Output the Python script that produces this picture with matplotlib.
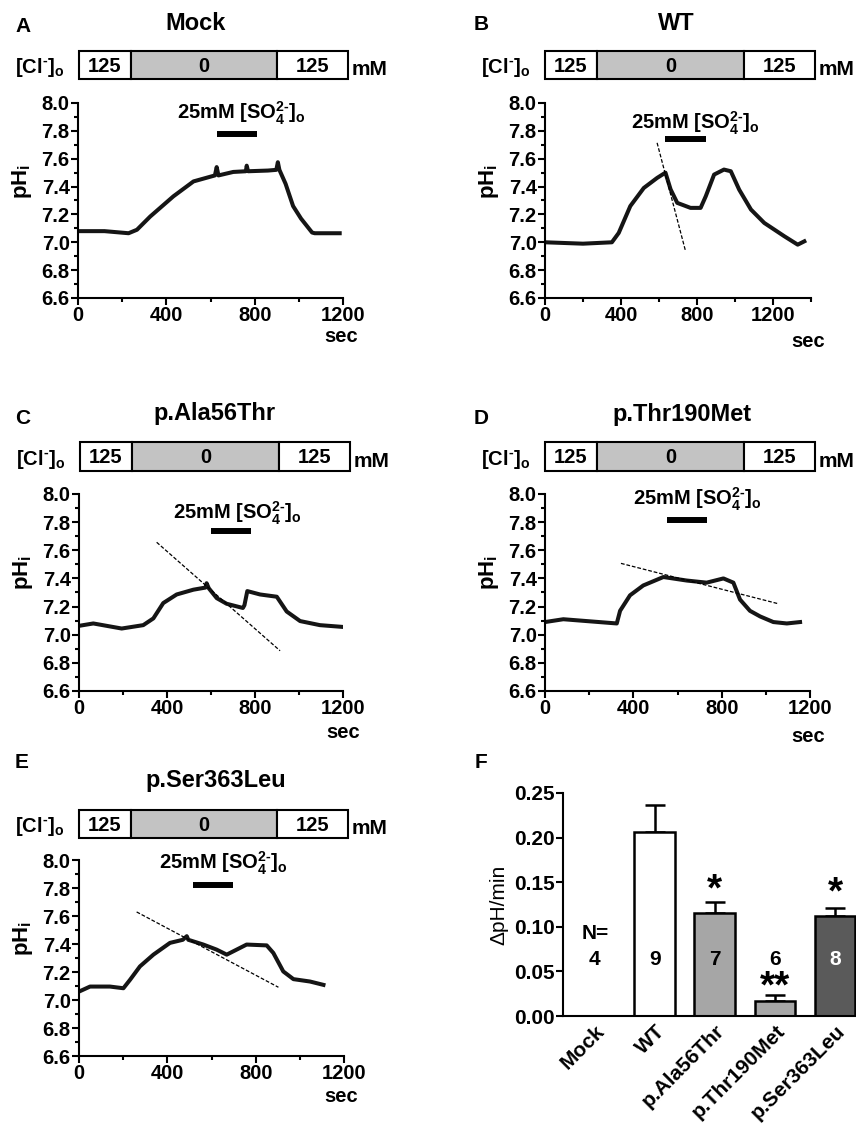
"""SLC26A pH_i traces (A-E) + ΔpH/min summary bar chart (F)."""
import matplotlib
matplotlib.use("Agg")
import matplotlib.pyplot as plt
from matplotlib.patches import Rectangle
from matplotlib.ticker import MultipleLocator, FormatStrFormatter

plt.rcParams["font.family"] = ["Liberation Sans", "DejaVu Sans"]
plt.rcParams["font.weight"] = "bold"
plt.rcParams["mathtext.fontset"] = "custom"
for k in ("rm", "it", "bf", "sf"):
    plt.rcParams[f"mathtext.{k}"] = "Liberation Sans:bold"
plt.rcParams["axes.linewidth"] = 1.5

# ---- trace data (time s, pH_i) ----
mock_t = [0, 120, 229, 267, 327, 432, 523, 620, 628, 636, 703, 760, 764, 770, 860,
          898, 905, 912, 940, 974, 1010, 1060, 1072, 1185]
mock_ph = [7.08, 7.08, 7.065, 7.09, 7.185, 7.33, 7.437, 7.48, 7.54, 7.48, 7.505, 7.51,
           7.55, 7.51, 7.515, 7.52, 7.575, 7.52, 7.42, 7.26, 7.17, 7.07, 7.065, 7.065]

wt_t = [0, 200, 352, 388, 449, 520, 590, 634, 661, 696, 766, 819, 846, 890, 942, 978,
        1022, 1084, 1154, 1260, 1330, 1365]
wt_ph = [7.0, 6.99, 7.0, 7.067, 7.26, 7.39, 7.462, 7.50, 7.38, 7.283, 7.247, 7.247,
         7.33, 7.486, 7.522, 7.51, 7.378, 7.235, 7.139, 7.043, 6.983, 7.007]

ala_t = [0, 65, 194, 292, 338, 383, 444, 520, 575, 580, 590, 626, 671, 745, 752, 765,
         823, 899, 944, 1005, 1095, 1194]
ala_ph = [7.063, 7.08, 7.044, 7.068, 7.116, 7.225, 7.286, 7.32, 7.335, 7.366, 7.33,
          7.26, 7.22, 7.19, 7.21, 7.31, 7.286, 7.27, 7.165, 7.097, 7.068, 7.056]

thr_t = [0, 83, 325, 340, 385, 445, 536, 642, 732, 808, 853, 883, 928, 974, 1034, 1095, 1155]
thr_ph = [7.09, 7.11, 7.08, 7.17, 7.28, 7.35, 7.41, 7.385, 7.37, 7.40, 7.37, 7.25,
          7.17, 7.13, 7.09, 7.08, 7.09]

ser_t = [0, 50, 140, 201, 231, 276, 337, 412, 470, 488, 495, 563, 623, 669, 699, 759,
         850, 880, 925, 971, 1046, 1107]
ser_ph = [7.06, 7.096, 7.096, 7.084, 7.144, 7.24, 7.324, 7.408, 7.43, 7.456, 7.43,
          7.396, 7.36, 7.324, 7.348, 7.396, 7.39, 7.336, 7.204, 7.149, 7.132, 7.108]

# dashed slope fits (None for Mock)
wt_fit_t, wt_fit_ph = [590, 740], [7.714, 6.935]
ala_fit_t, ala_fit_ph = [353, 914], [7.657, 6.886]
thr_fit_t, thr_fit_ph = [344, 1057], [7.507, 7.22]
ser_fit_t, ser_fit_ph = [261, 903], [7.629, 7.091]

# 25 mM sulfate application (s)
so4_on = [630, 634, 600, 551, 515]
so4_off = [811, 846, 782, 732, 699]

trace_titles = ["Mock", "WT", "p.Ala56Thr", "p.Thr190Met", "p.Ser363Leu"]
cl_labels = ["125", "0", "125"]

# ---- summary data (F) ----
groups = ["Mock", "WT", "p.Ala56Thr", "p.Thr190Met", "p.Ser363Leu"]
rate = [0.0, 0.206, 0.115, 0.017, 0.112]
sem = [0.0, 0.030, 0.013, 0.0065, 0.0095]
n_cells = ["4", "9", "7", "6", "8"]
stars = ["", "", "*", "**", "*"]
bar_colors = ["white", "white", "#a6a6a6", "#a6a6a6", "#5a5a5a"]

W, H = 856, 1131
fig = plt.figure(figsize=(W / 100, H / 100), dpi=100)

FS = 14.5  # main label size


def px_axes(l, t, r, b):
    return fig.add_axes([l / W, 1 - b / H, (r - l) / W, (b - t) / H])


def ftext(x, y, s, **kw):
    return fig.text(x / W, 1 - y / H, s, **kw)


traces = [
    (mock_t, mock_ph, None, None),
    (wt_t, wt_ph, wt_fit_t, wt_fit_ph),
    (ala_t, ala_ph, ala_fit_t, ala_fit_ph),
    (thr_t, thr_ph, thr_fit_t, thr_fit_ph),
    (ser_t, ser_ph, ser_fit_t, ser_fit_ph),
]

# layout per panel: letter, axes box (px), xmax, cl box (px), title xy,
# letter xy, so4 bar pH, so4 text (t, pH), sec label xy
layout = [
    ("A", (78, 103, 343, 298), 1200, (79, 51, 348, 79), (196, 24), (23, 26),
     7.78, (741, 7.93), (358, 337)),
    ("B", (545, 103, 811, 298), 1400, (545, 51, 815, 79), (676, 24), (481, 25),
     7.744, (793, 7.857), (825, 342)),
    ("C", (79, 494, 343, 691), 1200, (80, 442, 350, 471), (215, 413), (23, 418),
     7.74, (720, 7.87), (360, 732)),
    ("D", (545, 494, 810, 691), 1200, (545, 442, 815, 471), (682, 415), (481, 418),
     7.817, (691, 7.97), (825, 736)),
    ("E", (79, 860, 344, 1056), 1200, (79, 810, 348, 838), (216, 781), (22, 763),
     7.82, (654, 7.98), (358, 1097)),
]

so4_label = r"25mM [SO$_4^{2\text{-}}$]$_{\rm o}$"
cl_label = r"[Cl$^{\text{-}}$]$_{\rm o}$"

for i, (letter, box, xmax, clbox, txy, lxy, so4_y, so4_txt, sec_xy) in enumerate(layout):
    t, ph, ft, fph = traces[i]
    ax = px_axes(*box)
    ax.plot(t, ph, color="#151515", lw=2.9, solid_joinstyle="round")
    if ft is not None:
        ax.plot(ft, fph, color="black", lw=0.9, ls=(0, (3, 1.5)))
    ax.plot([so4_on[i], so4_off[i]], [so4_y, so4_y], color="black", lw=4.3,
            solid_capstyle="butt")
    ax.text(so4_txt[0], so4_txt[1] - 0.048, so4_label,
            ha="center", va="baseline", fontsize=FS)
    ax.set_xlim(0, xmax)
    ax.set_ylim(6.6, 8.0)
    ax.xaxis.set_major_locator(MultipleLocator(400))
    ax.xaxis.set_minor_locator(MultipleLocator(200))
    ax.yaxis.set_major_locator(MultipleLocator(0.2))
    ax.yaxis.set_minor_locator(MultipleLocator(0.1))
    ax.yaxis.set_major_formatter(FormatStrFormatter("%.1f"))
    for s in ("top", "right"):
        ax.spines[s].set_visible(False)
    ax.tick_params(which="major", direction="out", length=5, width=1.5,
                   labelsize=FS, pad=1)
    ax.tick_params(which="minor", direction="out", length=3, width=1.5)
    ax.tick_params(axis="x", pad=1)

    # pH_i axis label
    l, tp, r, b = box
    ftext(l - 56, tp + 0.40 * (b - tp), r"pH$_{\rm i}$", rotation=90,
          ha="center", va="center", fontsize=16)
    ftext(sec_xy[0], sec_xy[1], "sec", ha="right", va="center", fontsize=FS)
    ftext(txy[0], txy[1], trace_titles[i], ha="center", va="center", fontsize=17)
    ftext(lxy[0], lxy[1], letter, ha="center", va="center", fontsize=15)

    # chloride schematic bar
    cl, ct, cr, cb = clbox
    cax = px_axes(cl, ct, cr, cb)
    cax.set_xlim(0, 1)
    cax.set_ylim(0, 1)
    cax.axis("off")
    edges = [0, 0.193, 0.737, 1.0]
    fills = ["white", "#c3c3c3", "white"]
    for j in range(3):
        cax.add_patch(Rectangle((edges[j], 0), edges[j + 1] - edges[j], 1,
                                facecolor=fills[j], edgecolor="black", lw=1.5,
                                clip_on=False))
        cax.text((edges[j] + edges[j + 1]) / 2, 0.45, cl_labels[j],
                 ha="center", va="center", fontsize=FS)
    ftext(cl - 15, cb - 6, cl_label, ha="right", va="baseline", fontsize=FS)
    ftext(cr + 4, cb - 4, "mM", ha="left", va="baseline", fontsize=15)

# ---- panel F ----
axf = px_axes(563, 793, 856, 1016)
x = list(range(len(groups)))
errs = [[0] * len(sem), sem]
axf.errorbar(x, rate, yerr=errs, fmt="none", ecolor="black", elinewidth=1.8,
             capsize=7.5, capthick=1.8, zorder=1)
axf.bar(x, rate, width=0.68, color=bar_colors, edgecolor="black", linewidth=1.8,
        zorder=2)
axf.set_xlim(-0.53, 4.35)
axf.set_ylim(0, 0.25)
axf.yaxis.set_major_locator(MultipleLocator(0.05))
axf.yaxis.set_major_formatter(FormatStrFormatter("%.2f"))
for s in ("top", "right"):
    axf.spines[s].set_visible(False)
axf.tick_params(axis="y", direction="out", length=5, width=1.5, labelsize=15, pad=1)
axf.tick_params(axis="x", length=0, labelsize=15, pad=4)
axf.set_xticks(x)
axf.set_xticklabels(groups, rotation=45, ha="right", rotation_mode="anchor")
axf.set_ylabel("ΔpH/min", fontsize=15, fontweight="normal", labelpad=4)

axf.text(0, 0.0926, "N=", ha="center", va="center", fontsize=15)
for i, n in enumerate(n_cells):
    axf.text(i, 0.0634, n, ha="center", va="center", fontsize=15,
             color="white" if i == 4 else "black")
star_y = [None, None, 0.149, 0.040, 0.145]
for i, s in enumerate(stars):
    if s:
        axf.text(i, star_y[i] - 0.019, s, ha="center", va="baseline", fontsize=28)
ftext(481, 762, "F", ha="center", va="center", fontsize=15)

fig.savefig("out.png", dpi=100)
